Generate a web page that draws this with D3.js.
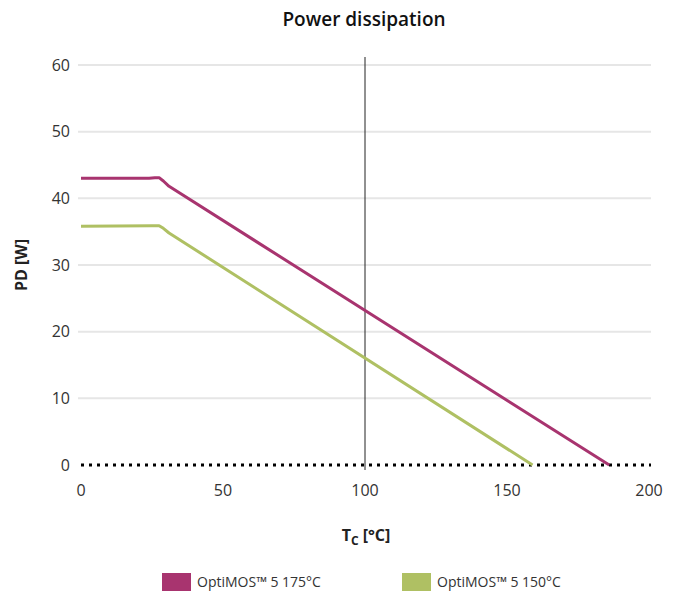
<!DOCTYPE html>
<html><head><meta charset="utf-8">
<script src="https://cdn.jsdelivr.net/npm/d3@7"></script>
<style>body{margin:0;background:#fff;} svg{display:block;font-family:"Open Sans",sans-serif;}</style>
</head><body>
<svg id="c" width="678" height="593"></svg>
<script>
const seriesNames = ["OptiMOS™ 5 175°C", "OptiMOS™ 5 150°C"];
const seriesColors = ["#A8346F", "#AFC063"];
const s175 = [[0,43],[24,43],[26,43.1],[27.5,43.1],[29,42.6],[31,41.8],[186,0]];
const s150 = [[0,35.8],[25,35.9],[27.5,35.9],[29,35.5],[31,34.8],[159,0]];
const xTicks = [0,50,100,150,200];
const yTicks = [0,10,20,30,40,50,60];
const markerX = 100;

const svg = d3.select("#c");
const x = d3.scaleLinear().domain([0,200]).range([81,649]);
const y = d3.scaleLinear().domain([0,60]).range([465,65]);

svg.append("text").attr("x",364).attr("y",26).attr("text-anchor","middle")
  .attr("font-size",19).attr("font-weight",600).attr("fill","#111").text("Power dissipation");

// grid
svg.append("g").selectAll("line").data(yTicks.filter(d=>d>0)).join("line")
  .attr("x1",78).attr("x2",651).attr("y1",d=>y(d)).attr("y2",d=>y(d))
  .attr("stroke","#e6e6e6").attr("stroke-width",2);

// y tick labels
svg.append("g").selectAll("text").data(yTicks).join("text")
  .attr("x",70).attr("y",d=>y(d)).attr("dy","0.35em").attr("text-anchor","end")
  .attr("font-size",16).attr("fill","#333").text(d=>d);

// x tick labels
svg.append("g").selectAll("text").data(xTicks).join("text")
  .attr("x",d=>x(d)).attr("y",490).attr("dy","0.35em").attr("text-anchor","middle")
  .attr("font-size",16).attr("fill","#333").text(d=>d);

// dotted zero line
svg.append("line").attr("x1",x(0)).attr("x2",651).attr("y1",y(0)).attr("y2",y(0))
  .attr("stroke","#000").attr("stroke-width",3).attr("stroke-dasharray","3,5");

// vertical marker
svg.append("line").attr("x1",x(markerX)).attr("x2",x(markerX)).attr("y1",57).attr("y2",470)
  .attr("stroke","#222").attr("stroke-width",1);

const line = d3.line().x(d=>x(d[0])).y(d=>y(d[1])).curve(d3.curveLinear);
[s175,s150].forEach((s,i)=>{
  svg.append("path").attr("d",line(s)).attr("fill","none")
    .attr("stroke",seriesColors[i]).attr("stroke-width",3).attr("stroke-linejoin","round");
});

// axis titles
svg.append("text").attr("transform","translate(27,265) rotate(-90)").attr("text-anchor","middle")
  .attr("font-size",16).attr("font-weight","bold").attr("fill","#222").text("PD [W]");
const xt = svg.append("text").attr("x",366).attr("y",541).attr("text-anchor","middle")
  .attr("font-size",16).attr("font-weight","bold").attr("fill","#222");
xt.append("tspan").text("T");
xt.append("tspan").attr("font-size",12).attr("dy",4).text("C");
xt.append("tspan").attr("dy",-4).text(" [°C]");

// legend
const lx = [162, 402];
seriesNames.forEach((n,i)=>{
  svg.append("rect").attr("x",lx[i]).attr("y",573).attr("width",29).attr("height",18).attr("fill",seriesColors[i]);
  svg.append("text").attr("x",lx[i]+35).attr("y",582).attr("dy","0.35em")
    .attr("font-size",14).attr("fill","#333").text(n);
});
</script>
</body></html>
